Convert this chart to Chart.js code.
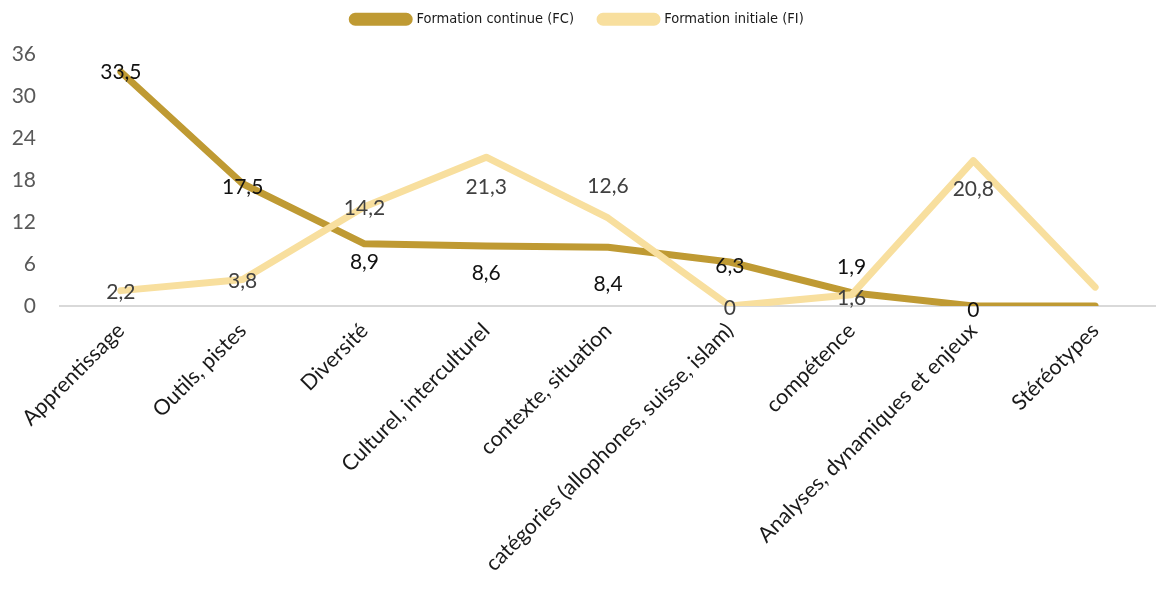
<!DOCTYPE html>
<html>
<head>
<meta charset="utf-8">
<script src="https://cdn.jsdelivr.net/npm/chart.js@4.4.1/dist/chart.umd.min.js"></script>
<style>
  html, body { margin: 0; padding: 0; background: #fff; }
  #wrap { width: 1156px; height: 593px; }
</style>
</head>
<body>
<div id="wrap"><canvas id="chart"></canvas></div>
<script>
// categories and series
var categories = ['Apprentissage', 'Outils, pistes', 'Diversité', 'Culturel, interculturel',
  'contexte, situation', 'catégories (allophones, suisse, islam)', 'compétence',
  'Analyses, dynamiques et enjeux', 'Stéréotypes'];
var fcValues = [33.5, 17.5, 8.9, 8.6, 8.4, 6.3, 1.9, 0, 0];
var fiValues = [2.2, 3.8, 14.2, 21.3, 12.6, 0, 1.6, 20.8, 2.7];
var yTicks = [0, 6, 12, 18, 24, 30, 36];

// label offsets (px, null = no label), like the manual placement in the original
var fcLabelDy = [0, 3, 18, 27, 37, 4, -25, 4, null];
var fiLabelDy = [2, 2, 1, 30, -32, 2, 3, 29, null];

var valueLabels = {
  id: 'valueLabels',
  afterDatasetsDraw: function(chart, args, opts) {
    var ctx = chart.ctx;
    ctx.save();
    ctx.font = '21px Lato, "Open Sans", sans-serif';
    ctx.textAlign = 'center';
    ctx.textBaseline = 'middle';
    chart.data.datasets.forEach(function(ds, di) {
      var meta = chart.getDatasetMeta(di);
      var offs = opts.offsets[di];
      ctx.fillStyle = opts.colors[di];
      meta.data.forEach(function(pt, i) {
        if (offs[i] === null) return;
        var txt = String(ds.data[i]).replace('.', ',');
        ctx.fillText(txt, pt.x, pt.y + offs[i]);
      });
    });
    ctx.restore();
  }
};

// give the legend some extra room below it
var legendGap = {
  id: 'legendGap',
  afterInit: function(chart) {
    var fit = chart.legend.fit;
    chart.legend.fit = function() {
      fit.call(this);
      this.height += 18;
    };
  }
};

var ctx = document.getElementById('chart').getContext('2d');
var chart = new Chart(ctx, {
  type: 'line',
  data: {
    labels: categories,
    datasets: [{
      label: 'Formation continue (FC)',
      data: fcValues,
      borderColor: '#BF9A33',
      backgroundColor: '#BF9A33',
      borderWidth: 7,
      pointRadius: 0,
      borderCapStyle: 'round',
      borderJoinStyle: 'round',
      order: 2
    }, {
      label: 'Formation initiale (FI)',
      data: fiValues,
      borderColor: '#F8DF9E',
      backgroundColor: '#F8DF9E',
      borderWidth: 7,
      pointRadius: 0,
      borderCapStyle: 'round',
      borderJoinStyle: 'round',
      order: 1
    }]
  },
  options: {
    responsive: true,
    maintainAspectRatio: false,
    animation: false,
    layout: { padding: { left: 0, right: 0, top: -14, bottom: 0 } },
    scales: {
      x: {
        offset: true,
        grid: { display: false, drawTicks: false },
        border: { display: true, color: '#D9D9D9', width: 2 },
        afterFit: function(scale) { scale.height = 287; },
        ticks: {
          minRotation: 45,
          maxRotation: 45,
          autoSkip: false,
          padding: 12,
          color: '#1a1a1a',
          font: { family: 'Lato, "Open Sans", sans-serif', size: 21.5 }
        }
      },
      y: {
        min: 0,
        max: 36,
        afterBuildTicks: function(axis) {
          axis.ticks = yTicks.map(function(v) { return { value: v }; });
        },
        afterFit: function(scale) { scale.width = 60; },
        grid: { display: false, drawTicks: false },
        border: { display: false },
        ticks: {
          padding: 24,
          color: '#595959',
          font: { family: 'Lato, "Open Sans", sans-serif', size: 21 }
        }
      }
    },
    plugins: {
      legend: {
        position: 'top',
        labels: {
          boxWidth: 57,
          boxHeight: 6,
          useBorderRadius: true,
          borderRadius: 3,
          padding: 26,
          color: '#1a1a1a',
          font: { family: '"Liberation Sans Narrow", "DejaVu Sans Condensed", sans-serif', size: 14.5 },
          sort: function(a, b) { return a.datasetIndex - b.datasetIndex; }
        }
      },
      tooltip: { enabled: false },
      valueLabels: {
        offsets: [fcLabelDy, fiLabelDy],
        colors: ['#111111', '#404040']
      }
    }
  },
  plugins: [valueLabels, legendGap]
});
</script>
</body>
</html>
